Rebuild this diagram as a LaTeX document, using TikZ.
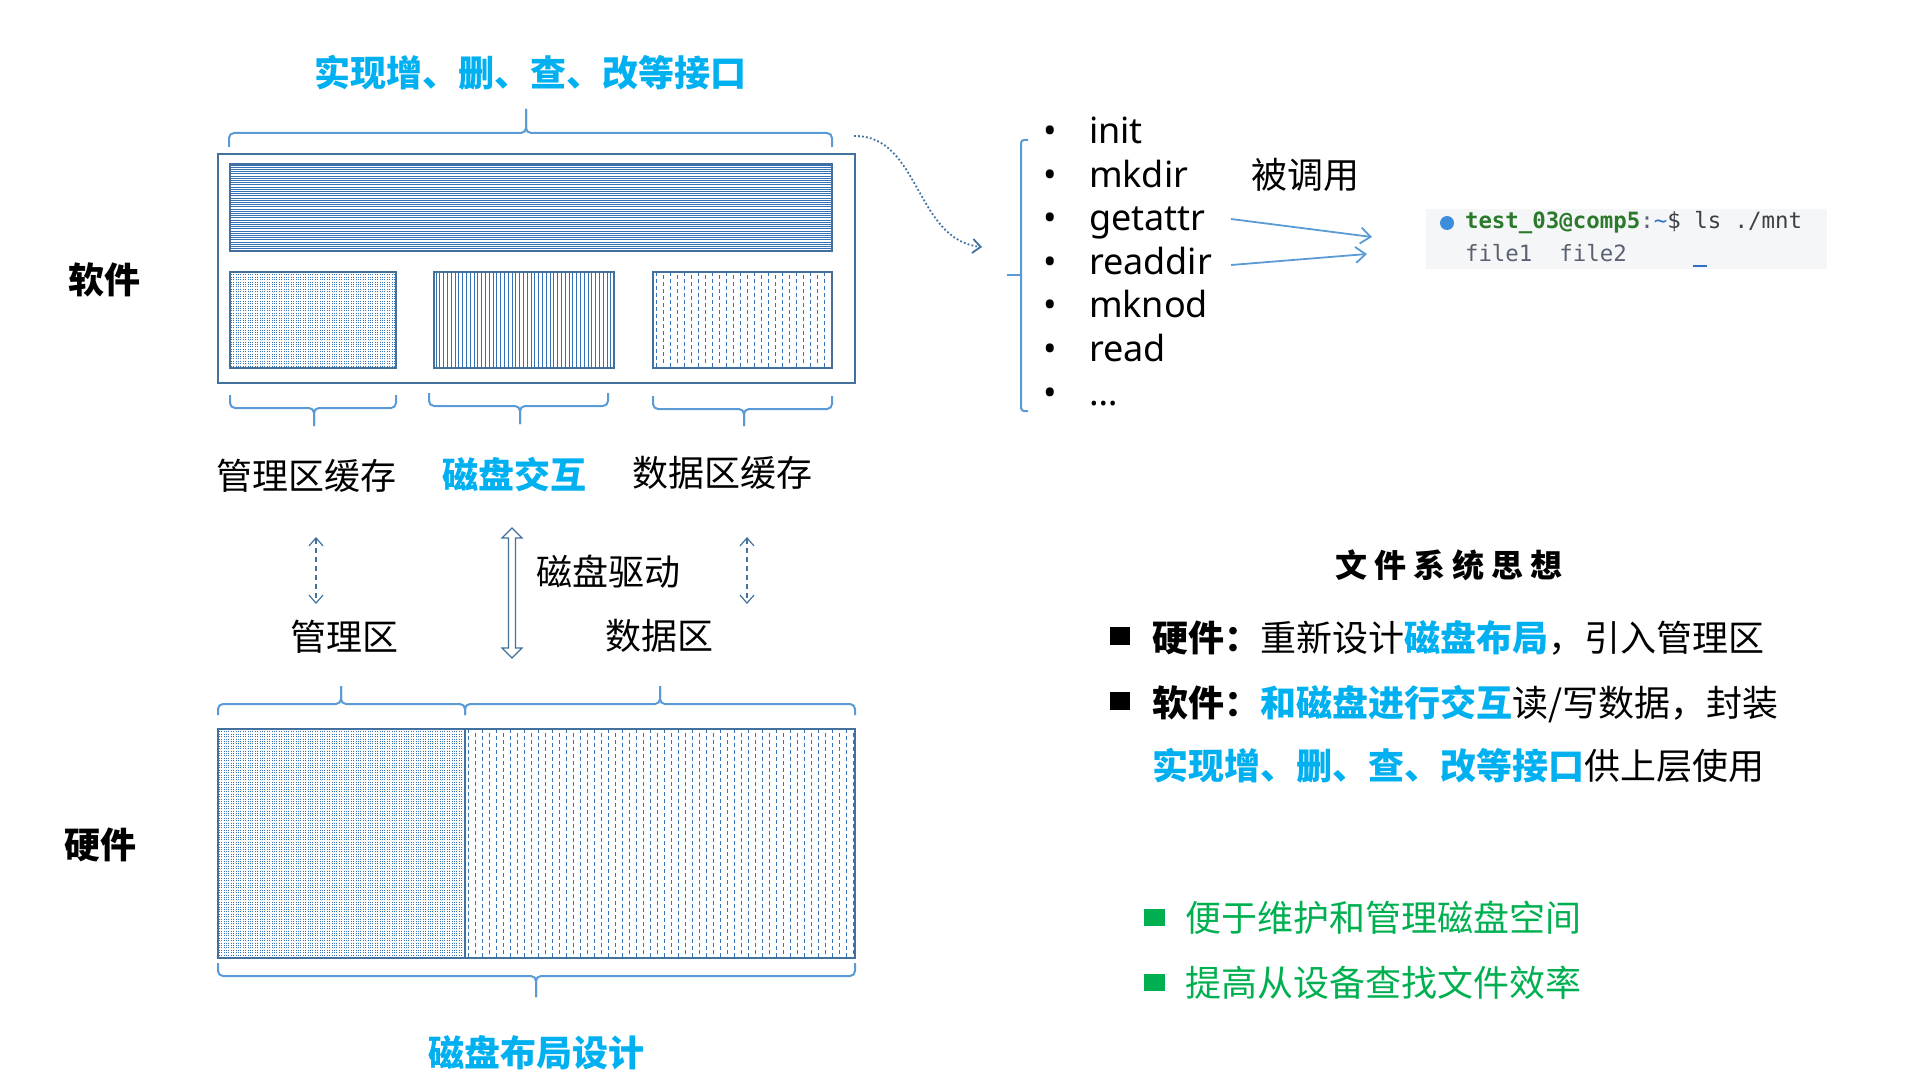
\documentclass[tikz,border=0pt]{standalone}
\usepackage{fontspec}
\setmainfont{Noto Sans}
\newfontfamily\cjk{Noto Sans CJK SC}
\newfontfamily\mono{DejaVu Sans Mono}
\usetikzlibrary{arrows.meta}

\definecolor{cyanT}{RGB}{0,176,240}
\definecolor{greenT}{RGB}{0,176,80}
\definecolor{braceC}{HTML}{5B9BD5}
\definecolor{boxC}{HTML}{41719C}
\definecolor{patC}{HTML}{3572B8}
\definecolor{termbg}{HTML}{F5F6F8}
\definecolor{tgreen}{HTML}{2B7A2B}
\definecolor{tgray}{HTML}{5A6270}
\definecolor{tblue}{HTML}{2F6FC4}
\definecolor{tdark}{HTML}{3C3F44}
\definecolor{dotblue}{HTML}{3C8DDB}

\tikzset{sbarb/.tip={Straight Barb[length=4pt,width=7pt]}}

% a curly brace: ends at yend, bar at yline, tip at ytip
\newcommand{\drawbrace}[6]{%
  \draw[brace] (#1,#4) -- (#1,#5) -- (#3,#5) -- (#3,#6);
  \draw[brace] (#2,#4) -- (#2,#5) -- (#3,#5) -- (#3,#6);}

% textures inside a block: left, top, width, height
\newcommand{\texhlines}[4]{\begin{scope}[shift={(#1,#2)}]\clip (0,0) rectangle (#3,#4);
  \foreach \yy in {1,3.2,...,#4}{\draw[patC,line width=0.45pt] (0,\yy) -- (#3,\yy);}
  \end{scope}}
\newcommand{\texvlines}[4]{\begin{scope}[shift={(#1,#2)}]\clip (0,0) rectangle (#3,#4);
  \foreach \xx in {2,5.8,...,#3}{\draw[patC,line width=0.5pt] (\xx,0) -- (\xx,#4);}
  \end{scope}}
\newcommand{\texdots}[4]{\begin{scope}[shift={(#1,#2)}]\clip (0,0) rectangle (#3,#4);
  \foreach \xx in {1.2,3.6,...,#3}{\draw[patC,line width=0.4pt,dash pattern=on 0.4pt off 0.8pt] (\xx,0) -- (\xx,#4);}
  \end{scope}}
\newcommand{\texdashes}[4]{\begin{scope}[shift={(#1,#2)}]\clip (0,0) rectangle (#3,#4);
  \foreach \xx in {3.5,17.5,...,#3}{\draw[patC,line width=0.5pt,dash pattern=on 2pt off 1.5pt] (\xx,0) -- (\xx,#4);}
  \foreach \xx in {10.5,24.5,...,#3}{\draw[patC,line width=0.5pt,dash pattern=on 2pt off 1.5pt,dash phase=1.75pt] (\xx,0) -- (\xx,#4);}
  \end{scope}}

\begin{document}
\begin{tikzpicture}[x=0.5pt,y=-0.5pt,
  every node/.style={inner sep=0pt,outer sep=0pt},
  brace/.style={braceC,line width=1pt,rounded corners=2.5pt},
  zh/.style={font=\cjk\fontsize{18}{22}\selectfont},
  zhb/.style={font=\cjk\bfseries\fontsize{18}{22}\selectfont},
  li/.style={font=\fontsize{18}{22}\selectfont,anchor=base west},
  blk/.style={draw=boxC,line width=1pt},
  dasharrow/.style={boxC,line width=0.6pt,dash pattern=on 2.5pt off 2pt,sbarb-sbarb},
  callarrow/.style={braceC,line width=0.9pt,-{Straight Barb[length=5pt,width=8pt]}},
  sqb/.style={fill=black,minimum width=10pt,minimum height=9pt},
  sqg/.style={fill=greenT,minimum width=10.5pt,minimum height=8.5pt}]

\useasboundingbox (0,0) rectangle (1920,1080);

% ---------- software layer ----------
\node[zhb,text=cyanT] (api) at (530,73) {实现增、删、查、改等接口};
\drawbrace{229}{832}{526}{147}{133}{109}

\draw[boxC,line width=1.1pt] (218,154) rectangle (855,383);
\texhlines{230}{164}{602}{87}
\draw[blk] (230,164) rectangle (832,251);
\texdots{230}{272}{166}{96}
\draw[blk] (230,272) rectangle (396,368);
\texvlines{434}{272}{180}{96}
\draw[blk] (434,272) rectangle (614,368);
\texdashes{653}{272}{179}{96}
\draw[blk] (653,272) rectangle (832,368);

\drawbrace{230}{396}{314}{395}{408}{426}
\drawbrace{429}{608}{520}{393}{406}{424}
\drawbrace{653}{832}{744}{396}{409}{426}

\node[zhb] (sw) at (104,280) {软件};
\node[zh] (mcache) at (306,476) {管理区缓存};
\node[zhb,text=cyanT] (diskio) at (514,475) {磁盘交互};
\node[zh] (dcache) at (722,473) {数据区缓存};

% ---------- links between the layers ----------
\coordinate (la) at (316,537); \coordinate (lb) at (316,604);
\coordinate (ra) at (747,537); \coordinate (rb) at (747,604);
\draw[dasharrow] (la) -- (lb);
\draw[dasharrow] (ra) -- (rb);

% hollow double arrow of the disk driver
\coordinate (dv) at (512,528);
\draw[boxC,line width=0.6pt,fill=white]
  (dv) -- (522,538) -- (515.5,538) -- (515.5,648) -- (522,648) -- (512,658)
  -- (502,648) -- (508.5,648) -- (508.5,538) -- (502,538) -- cycle;
\node[zh] (drv) at (608,572) {磁盘驱动};
\node[zh] (mzone) at (344,637) {管理区};
\node[zh] (dzone) at (659,636) {数据区};

% ---------- hardware layer ----------
\drawbrace{218}{465}{341}{715}{704}{686}
\drawbrace{465}{855}{660}{715}{704}{686}
\texdots{218}{729}{247}{229}
\texdashes{465}{729}{390}{229}
\draw[boxC,line width=0.6pt] (465,729) -- (465,958);
\draw[boxC,line width=1.1pt] (218,729) rectangle (855,958);
\drawbrace{218}{855}{536}{963}{976}{997}
\node[zhb] (hw) at (100,845) {硬件};
\node[zhb,text=cyanT] (layout) at (536,1053) {磁盘布局设计};

% ---------- operation list ----------
\coordinate (c0) at (854,136);
\coordinate (c1) at (982,247);
\draw[boxC,line width=0.9pt,dash pattern=on 0.9pt off 1.1pt,-{Straight Barb[length=4pt,width=7pt]}]
  (c0) .. controls (920,135) and (915,240) .. (c1);
\draw[brace,rounded corners=1.5pt] (1028,140) -- (1021,140) -- (1021,411) -- (1028,411);
\draw[brace] (1021,275) -- (1007,275);

\foreach \t [count=\i] in {init,mkdir,getattr,readdir,mknod,read,\dots}{
  \node[li] (bul\i) at (1043,144+43.5*\i-43.5) {\textbullet};
  \node[li] (op\i) at (1089,144+43.5*\i-43.5) {\t};
}
\node[zh] (called) at (1305,175) {被调用};

% ---------- terminal ----------
\fill[termbg] (1426,209) rectangle (1827,269);
\node[fill=dotblue,circle,minimum size=7pt] (dot) at (1447,223) {};
\node[anchor=west,font=\mono\fontsize{11.2}{14}\selectfont] (cmd) at (1465,223)
  {\textcolor{tgreen}{\bfseries test\_03@comp5}\textcolor{tgray}{:}\textcolor{tblue}{\textasciitilde}\textcolor{tdark}{\$ ls ./mnt}};
\node[anchor=west,font=\mono\fontsize{11.2}{14}\selectfont,text=tgray] (out) at (1465,253) {file1\ \ file2};
\draw[tblue,line width=1pt] (1693,266) -- (1707,266);

\coordinate (g0) at (1231,219); \coordinate (g1) at (1372,237);
\coordinate (r0) at (1231,265); \coordinate (r1) at (1367,254);
\draw[callarrow] (g0) -- (g1);
\draw[callarrow] (r0) -- (r1);

% ---------- summary ----------
\node[font=\cjk\bfseries\fontsize{16}{20}\selectfont] (idea) at (1449,565)
  {文\hspace{3.5pt}件\hspace{3.5pt}系\hspace{3.5pt}统\hspace{3.5pt}思\hspace{3.5pt}想};

\node[sqb] (s1) at (1120,636) {};
\node[zh,anchor=base west] (p1) at (1152,651)
  {{\bfseries 硬件：}重新设计{\bfseries\color{cyanT}磁盘布局}，引入管理区};
\node[sqb] (s2) at (1120,701) {};
\node[zh,anchor=base west] (p2) at (1152,716)
  {{\bfseries 软件：}{\bfseries\color{cyanT}和磁盘进行交互}读/写数据，封装};
\node[zh,anchor=base west] (p3) at (1152,779)
  {{\bfseries\color{cyanT}实现增、删、查、改等接口}供上层使用};

\node[sqg] (s3) at (1154,917) {};
\node[zh,anchor=base west,text=greenT] (p4) at (1185,931) {便于维护和管理磁盘空间};
\node[sqg] (s4) at (1154,982) {};
\node[zh,anchor=base west,text=greenT] (p5) at (1185,996) {提高从设备查找文件效率};

\end{tikzpicture}
\end{document}
